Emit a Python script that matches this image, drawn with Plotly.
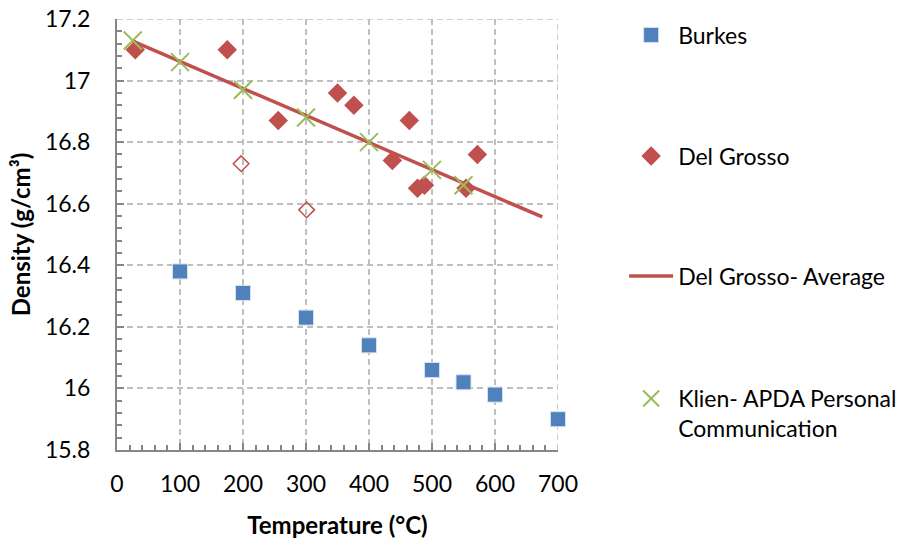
import plotly.graph_objects as go

# ---- data ----
burkes_t = [100, 200, 300, 400, 500, 550, 600, 700]
burkes_d = [16.38, 16.31, 16.23, 16.14, 16.06, 16.02, 15.98, 15.90]

delgrosso_t = [29, 175, 256, 350, 376, 437, 464, 477, 488, 554, 572]
delgrosso_d = [17.10, 17.10, 16.87, 16.96, 16.92, 16.74, 16.87, 16.65, 16.66, 16.65, 16.76]

delgrosso_open_t = [197, 301]
delgrosso_open_d = [16.73, 16.58]

avg_t = [25, 675]
avg_d = [17.128, 16.557]

klien_t = [25, 100, 200, 300, 400, 500, 550]
klien_d = [17.13, 17.06, 16.97, 16.88, 16.80, 16.71, 16.66]

y_ticks = [15.8, 16.0, 16.2, 16.4, 16.6, 16.8, 17.0, 17.2]
y_labels = ["15.8", "16", "16.2", "16.4", "16.6", "16.8", "17", "17.2"]
x_ticks = [0, 100, 200, 300, 400, 500, 600, 700]

BLUE = "#4F81BD"
RED = "#C0504D"
GREEN = "#9BBB59"
GRID = "#BFBFBF"
FONT = "Lato"

fig = go.Figure()
fig.add_trace(go.Scatter(
    x=burkes_t, y=burkes_d, mode="markers", name="Burkes", legend="legend", cliponaxis=False,
    marker=dict(symbol="square", size=15, color=BLUE, line=dict(color="#D6E0EE", width=1)),
))
fig.add_trace(go.Scatter(
    x=delgrosso_t, y=delgrosso_d, mode="markers", name="Del Grosso", legend="legend2", cliponaxis=False,
    marker=dict(symbol="diamond", size=15, color=RED, line=dict(width=0)),
))
fig.add_trace(go.Scatter(
    x=delgrosso_open_t, y=delgrosso_open_d, mode="markers", name="Del Grosso (open)",
    showlegend=False, cliponaxis=False,
    marker=dict(symbol="diamond-open", size=12, color=RED, line=dict(color=RED, width=1.5)),
))
fig.add_trace(go.Scatter(
    x=avg_t, y=avg_d, mode="lines", name="Del Grosso- Average", legend="legend3",
    line=dict(color=RED, width=3.5),
))
fig.add_trace(go.Scatter(
    x=klien_t, y=klien_d, mode="markers", name="Klien- APDA Personal<br>Communication",
    legend="legend4", cliponaxis=False,
    marker=dict(symbol="x-thin-open", size=18, color=GREEN, line=dict(color=GREEN, width=2)),
))

axis_common = dict(
    showline=True, linecolor="#868686", linewidth=2,
    ticks="inside", ticklen=7, tickcolor="#868686", tickwidth=2,
    showgrid=True, gridcolor=GRID, gridwidth=1.5, griddash="6px,4px",
    zeroline=False, automargin=False, ticklabeloverflow="allow",
    tickfont=dict(family=FONT, size=23, color="#000000"),
)

fig.update_xaxes(
    range=[min(x_ticks), max(x_ticks)], tickvals=x_ticks, ticklabelstandoff=12,
    title=dict(text="<b>Temperature (°C)</b>", font=dict(family=FONT, size=24, color="#000000"), standoff=23),
    minor=dict(ticks="inside", dtick=20, ticklen=5, tickcolor="#868686", tickwidth=1.5, showgrid=False),
    **axis_common,
)
fig.update_yaxes(
    range=[min(y_ticks), max(y_ticks)], tickvals=y_ticks, ticktext=y_labels, ticklabelstandoff=20,
    title=dict(text="<b>Density (g/cm³)</b>", font=dict(family=FONT, size=24, color="#000000"), standoff=8),
    minor=dict(ticks="inside", dtick=0.04, tick0=15.8, ticklen=5, tickcolor="#868686", tickwidth=1.5, showgrid=False),
    **axis_common,
)

# gridlines at the far ends of the ranges (plotly clips those)
fig.add_shape(type="line", xref="x domain", yref="y", x0=0, x1=1, y0=max(y_ticks), y1=max(y_ticks),
              line=dict(color=GRID, width=1.5, dash="6px,4px"), layer="below")
fig.add_shape(type="line", xref="x", yref="y domain", x0=max(x_ticks), x1=max(x_ticks), y0=0, y1=1,
              line=dict(color=GRID, width=1.5, dash="6px,4px"), layer="below")

legend_common = dict(
    x=1.15, xanchor="left", yanchor="middle", itemwidth=44,
    font=dict(family=FONT, size=23, color="#000000"),
    bgcolor="rgba(0,0,0,0)",
)
fig.update_layout(
    width=909, height=539,
    margin=dict(l=117, r=351, t=19, b=89, autoexpand=False),
    paper_bgcolor="white", plot_bgcolor="white",
    font=dict(family=FONT),
    legend=dict(y=(450 - 35) / 431, **legend_common),
    legend2=dict(y=(450 - 156) / 431, **legend_common),
    legend3=dict(y=(450 - 276) / 431, **legend_common),
    legend4=dict(y=(450 - 413.5) / 431, valign="top", **legend_common),
)

fig.write_html("out.html", config={"displayModeBar": False},
               post_script="document.body.style.margin='0';")
